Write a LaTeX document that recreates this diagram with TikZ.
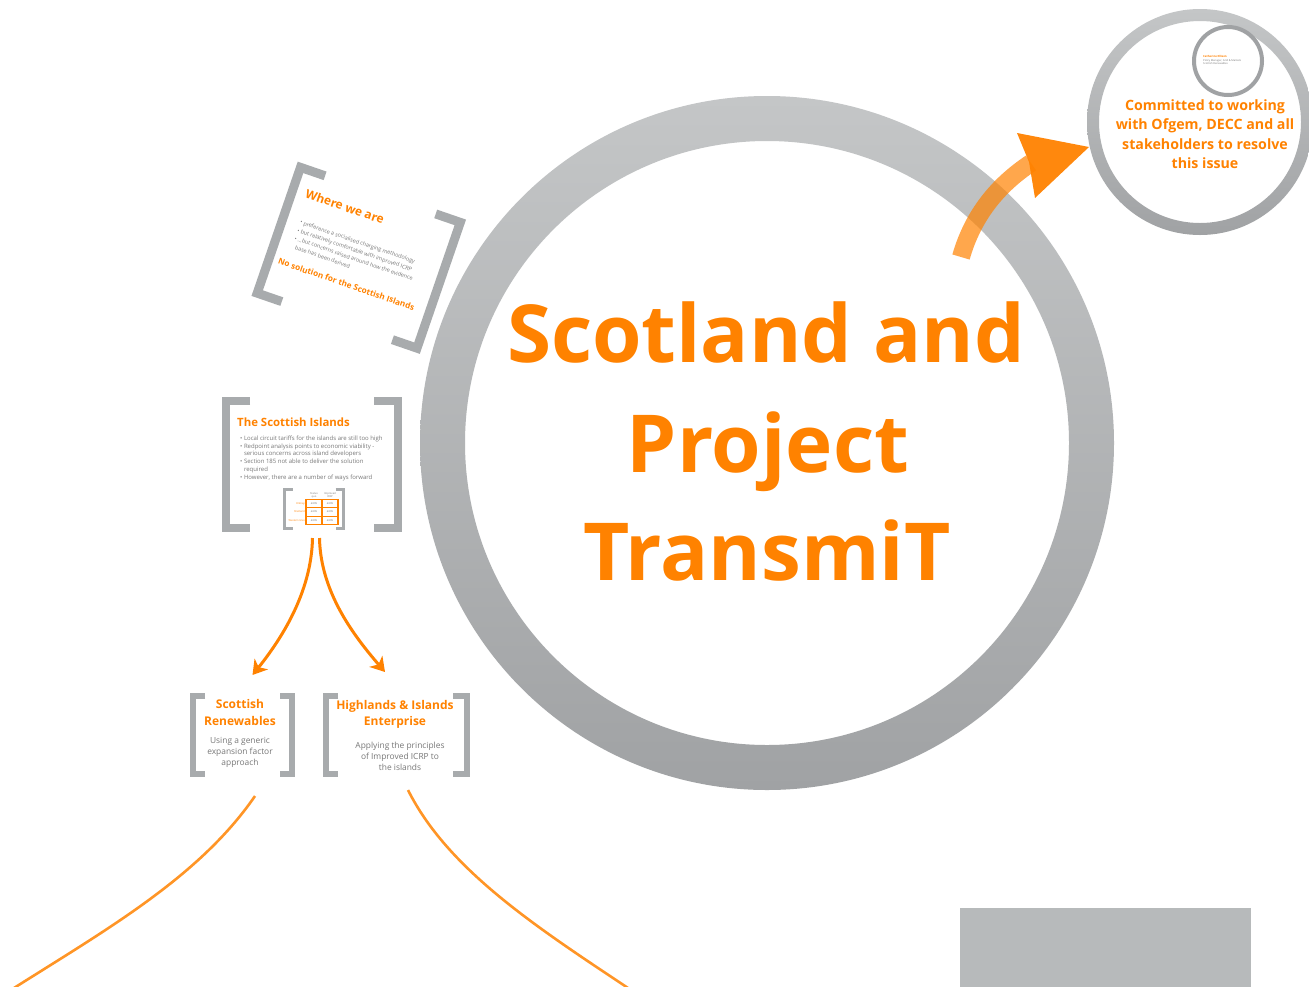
\documentclass[tikz,border=0pt]{standalone}
\usepackage{fontspec}
\setmainfont{Open Sans}
\usetikzlibrary{arrows.meta}
\definecolor{org}{RGB}{255,130,0}
\definecolor{ringA}{RGB}{196,198,199}
\definecolor{ringB}{RGB}{160,162,164}
\definecolor{brk}{RGB}{168,171,173}
\definecolor{txt}{RGB}{120,120,120}
\definecolor{boxgray}{RGB}{183,186,187}
\begin{document}
\begin{tikzpicture}[x=1pt,y=-1pt,
  brkline/.style={draw=brk, line width=#1, line join=miter},
  bigt/.style={text=org, font=\bfseries\fontsize{80}{96}\selectfont, inner sep=0, anchor=base},
  boxt/.style={text=org, font=\bfseries\fontsize{12}{16.5}\selectfont, align=center, inner sep=0},
  boxb/.style={text=txt, font=\fontsize{8.4}{11}\selectfont, align=center, inner sep=0},
  tinyb/.style={text=txt, font=\fontsize{6}{7.8}\selectfont, align=left, inner sep=0, anchor=north west},
  micro/.style={font=\fontsize{2.6}{3.2}\selectfont, inner sep=0, align=center},
  oarrow/.style={draw=org, line width=3, -{Stealth[length=14pt,width=17pt,inset=4pt]}},
  oline/.style={draw=org!85, line width=2.6},
  frame/.style={inner sep=0, outer sep=0, minimum width=#1},
]
\useasboundingbox (0,0) rectangle (1309,986);
\fill[white] (0,0) rectangle (1309,986);

% ---------- main ring ----------
\node[circle, minimum size=694, inner sep=0] (ring) at (767,443) {};
\shade[top color=ringA, bottom color=ringB, even odd rule]
  (767,443) circle[radius=347] (767,443) circle[radius=302];

\node[bigt] (t1) at (766,362) {Scotland and};
\node[bigt] (t2) at (768,472) {Project};
\node[bigt] (t3) at (767,580) {TransmiT};

% ---------- top right circle ----------
\node[circle, minimum size=226, inner sep=0] (cc) at (1200,122) {};
\shade[top color=ringA, bottom color=ringB, even odd rule]
  (1200,122) circle[radius=113] (1200,122) circle[radius=101];
\node[circle, draw=ringB, line width=4, minimum size=68, inner sep=0] (pc) at (1228,61) {};
\node[micro, text=org, font=\bfseries\fontsize{2.8}{3.2}\selectfont, anchor=west] (pn) at (1203,56) {Catherine Ellison};
\node[micro, text=txt, align=left, anchor=north west] (pr) at (1203,59) {Policy Manager, Grid \& Markets\\Scottish Renewables};
\node[text=org, font=\bfseries\fontsize{14.2}{19.5}\selectfont, align=center, inner sep=0] (ct) at (1205,134)
  {Committed to working\\with Ofgem, DECC and all\\stakeholders to resolve\\this issue};

% ---------- big orange arrow ----------
\coordinate (a0) at (961,257);
\coordinate (a1) at (1031,163);
\draw[draw=org, opacity=0.7, line width=18] (a0) .. controls (973,215) and (998,185) .. (a1);
\fill[org, opacity=0.95] (1017,133) -- (1089,147) -- (1035,198) -- (1029,162) -- cycle;

% ---------- Where we are (rotated) ----------
\begin{scope}[shift={(358.75,257.75)}, rotate=-19]
  \node[frame=169, minimum height=133, transform shape] (wb) at (0,0) {};
  \draw[brkline=9] (-58.5,-66.5) -- (-84.5,-66.5) -- (-84.5,66.5) -- (-58.5,66.5);
  \draw[brkline=9] (58.5,-66.5) -- (84.5,-66.5) -- (84.5,66.5) -- (58.5,66.5);
  \node[text=org, font=\bfseries\fontsize{12}{14}\selectfont, anchor=west, inner sep=0, transform shape] (wt) at (-71,-44) {Where we are};
  \node[text=txt, font=\fontsize{5.5}{8.6}\selectfont, align=left, anchor=west, inner sep=0, transform shape] (wbul) at (-67,-2)
    {• preference a socialised charging methodology\\• but relatively comfortable with improved ICRP\\• \dots but concerns raised around how the evidence\\\phantom{•} base has been derived};
  \node[text=org, font=\bfseries\fontsize{8.2}{9}\selectfont, anchor=west, inner sep=0, transform shape] (wns) at (-75,29) {No solution for the Scottish Islands};
\end{scope}

% ---------- The Scottish Islands ----------
\node[frame=172, minimum height=127] (isl) at (312,464.5) {};
\draw[brkline=8] ([xshift=24]isl.north west) -- (isl.north west) -- (isl.south west) -- ([xshift=24]isl.south west);
\draw[brkline=8] ([xshift=-24]isl.north east) -- (isl.north east) -- (isl.south east) -- ([xshift=-24]isl.south east);
\node[text=org, font=\bfseries\fontsize{11.4}{12}\selectfont, anchor=west, inner sep=0] (islt) at (237,422) {The Scottish Islands};
\node[tinyb] (islb) at (240,435.5)
  {• Local circuit tariffs for the islands are still too high\\
   • Redpoint analysis points to economic viability -\\
   \phantom{•} serious concerns across island developers\\
   • Section 185 not able to deliver the solution\\
   \phantom{•} required\\
   • However, there are a number of ways forward};

% inner table
\node[frame=59, minimum height=39] (tb) at (314,509) {};
\draw[brkline=3] ([xshift=8]tb.north west) -- (tb.north west) -- (tb.south west) -- ([xshift=8]tb.south west);
\draw[brkline=3] ([xshift=-8]tb.north east) -- (tb.north east) -- (tb.south east) -- ([xshift=-8]tb.south east);
\draw[org, line width=1.3] (306,499.5) rectangle (338,524.5)
  (322,499.5) -- (322,524.5) (306,507.8) -- (338,507.8) (306,516.2) -- (338,516.2);
\node[micro, text=txt] (c1) at (314,495) {Status\\quo};
\node[micro, text=txt] (c2) at (330,495) {Improved\\ICRP};
\node[micro, text=org, anchor=east] (r1) at (305,503.7) {Orkney};
\node[micro, text=org, anchor=east] (r2) at (305,512) {Shetland};
\node[micro, text=org, anchor=east] (r3) at (305,520.4) {Western Isles};
\foreach \yy/\nm in {503.7/a,512/b,520.4/c}{
  \node[micro, text=txt] (v1\nm) at (314,\yy) {£/kW};
  \node[micro, text=txt] (v2\nm) at (330,\yy) {£/kW};
}

% ---------- Scottish Renewables ----------
\node[frame=99, minimum height=78] (sr) at (242.5,735) {};
\draw[brkline=6] ([xshift=12]sr.north west) -- (sr.north west) -- (sr.south west) -- ([xshift=12]sr.south west);
\draw[brkline=6] ([xshift=-12]sr.north east) -- (sr.north east) -- (sr.south east) -- ([xshift=-12]sr.south east);
\node[boxt] (srt) at (240,712.5) {Scottish\\Renewables};
\node[boxb] (srb) at (240,752) {Using a generic\\expansion factor\\approach};

% ---------- Highlands & Islands Enterprise ----------
\node[frame=141, minimum height=78] (hl) at (396.5,735) {};
\draw[brkline=6] ([xshift=12]hl.north west) -- (hl.north west) -- (hl.south west) -- ([xshift=12]hl.south west);
\draw[brkline=6] ([xshift=-14]hl.north east) -- (hl.north east) -- (hl.south east) -- ([xshift=-14]hl.south east);
\node[boxt] (hlt) at (395,714.5) {Highlands \& Islands\\Enterprise};
\node[boxb] (hlb) at (400,756) {Applying the principles\\of Improved ICRP to\\the islands};

% ---------- connectors ----------
\draw[oarrow] ([xshift=0.5,yshift=-10]isl.south) .. controls +(-1,55) and +(28,-35) .. ([xshift=10,yshift=21]sr.north);
\draw[oarrow] ([xshift=7.5,yshift=-10]isl.south) .. controls +(1,55) and +(-30,-35) .. ([xshift=-11.5,yshift=24]hl.north);

\coordinate (e1) at (14,988);
\coordinate (e2) at (628,988);
\draw[oline] ([xshift=12.5,yshift=-22]sr.south) .. controls +(-55,80) and +(95,-60) .. (e1);
\draw[oline] ([xshift=11.5,yshift=-16]hl.south) .. controls +(40,80) and +(-90,-60) .. (e2);

% ---------- gray block ----------
\node[fill=boxgray, minimum width=291, minimum height=80, inner sep=0, anchor=north west] (gb) at (960,908) {};
\end{tikzpicture}
\end{document}
